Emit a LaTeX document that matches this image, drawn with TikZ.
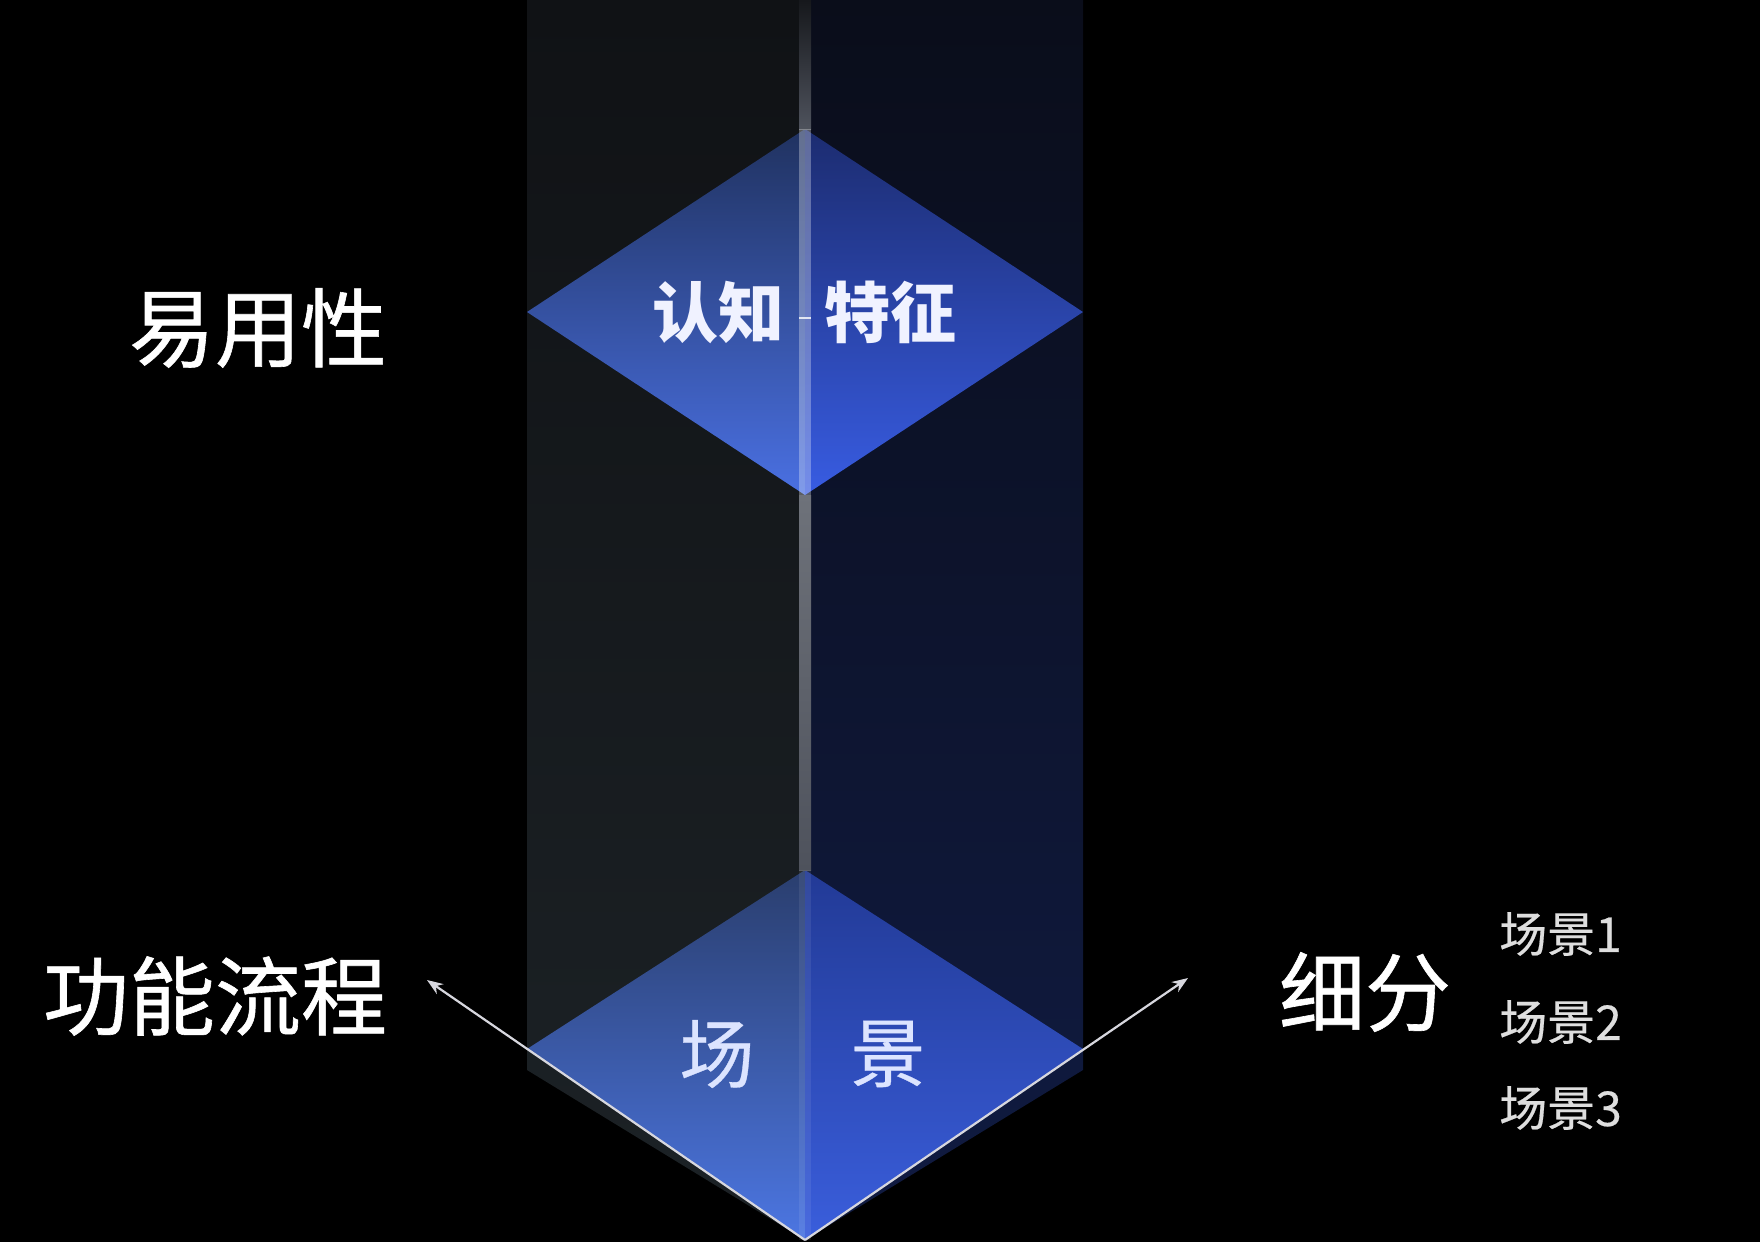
\documentclass[tikz,border=0pt]{standalone}
\usepackage{fontspec}
\newfontfamily\cjk{Noto Sans CJK SC}
\newfontfamily\cjkm[FakeBold=0.7]{Noto Sans CJK SC}
\newfontfamily\cjks[FakeBold=0.4]{Noto Sans CJK SC}
\usetikzlibrary{arrows.meta}
\definecolor{colLt}{RGB}{16,18,21}
\definecolor{colLb}{RGB}{28,34,38}
\definecolor{colRt}{RGB}{10,13,26}
\definecolor{colRb}{RGB}{16,27,66}
\definecolor{tdLt}{RGB}{32,50,96}
\definecolor{tdLb}{RGB}{74,112,226}
\definecolor{tdRt}{RGB}{28,44,112}
\definecolor{tdRb}{RGB}{56,92,226}
\definecolor{bdLt}{RGB}{42,62,110}
\definecolor{bdLb}{RGB}{76,118,226}
\definecolor{bdRt}{RGB}{34,58,150}
\definecolor{bdRb}{RGB}{58,94,220}
\definecolor{arrowcol}{RGB}{215,215,222}
\definecolor{lavender}{RGB}{220,228,255}
\definecolor{dtext}{RGB}{240,242,255}
\definecolor{subtext}{RGB}{222,222,222}
\definecolor{barA}{RGB}{22,24,28}
\definecolor{barB}{RGB}{78,82,92}
\definecolor{barC}{RGB}{110,114,122}
\begin{document}
\begin{tikzpicture}[x=1pt,y=-1pt,
  biglabel/.style={font=\cjkm\fontsize{86}{90}\selectfont, text=white, inner sep=0pt},
  dlabel/.style={font=\cjk\bfseries\fontsize{66}{70}\selectfont, text=dtext, inner sep=0pt},
  slabel/.style={font=\cjks\fontsize{75}{78}\selectfont, text=lavender, inner sep=0pt},
  sublabel/.style={font=\cjks\fontsize{48}{52}\selectfont, text=subtext, inner sep=0pt},
  flowarrow/.style={draw=arrowcol, line width=2.2pt, -{Stealth[length=16pt,width=12pt]}}]
\fill[black] (0,0) rectangle (1760,1242);
\useasboundingbox (0,0) rectangle (1760,1242);
% column halves
\shade[top color=colLt, bottom color=colLb] (527,0) -- (805,0) -- (805,1240) -- (527,1070) -- cycle;
\shade[top color=colRt, bottom color=colRb] (805,0) -- (1083,0) -- (1083,1070) -- (805,1240) -- cycle;
% top diamond
\coordinate (tT) at (805,129);
\coordinate (tL) at (527,312);
\coordinate (tR) at (1083,312);
\coordinate (tB) at (805,495);
\shade[top color=tdLt, bottom color=tdLb] (tT) -- (tL) -- (tB) -- cycle;
\shade[top color=tdRt, bottom color=tdRb] (tT) -- (tR) -- (tB) -- cycle;
% bottom diamond
\coordinate (bT) at (805,870);
\coordinate (bL) at (527,1049);
\coordinate (bR) at (1083,1049);
\coordinate (bB) at (805,1240);
\shade[top color=bdLt, bottom color=bdLb] (bT) -- (bL) -- (bB) -- cycle;
\shade[top color=bdRt, bottom color=bdRb] (bT) -- (bR) -- (bB) -- cycle;
% central bar
\shade[top color=barA, bottom color=barB] (799,0) rectangle (811,129);
\fill[white, opacity=0.3] (799,129) rectangle (811,495);
\shade[top color=barC, bottom color=barB] (799,495) rectangle (811,870);
\fill[white, opacity=0.08] (799,870) rectangle (811,1240);
\draw[white, opacity=0.8, line width=1.5pt] (799,318) -- (811,318);
% arrows
\coordinate (aL) at (427,980);
\coordinate (aR) at (1188,978);
\draw[flowarrow] (bB) -- (aL);
\draw[flowarrow] (bB) -- (aR);
% labels
\node[dlabel] (renzhi) at (718,312) {认知};
\node[dlabel] (tezheng) at (890,312) {特征};
\node[slabel] (chang) at (717,1054) {场};
\node[slabel] (jing) at (888,1054) {景};
\node[biglabel] (yiyong) at (258,328) {易用性};
\node[biglabel] (gongneng) at (215,996) {功能流程};
\node[biglabel] (xifen) at (1365,992) {细分};
\node[sublabel, anchor=west] (cj1) at (1499,934) {场景1};
\node[sublabel, anchor=west] (cj2) at (1499,1022) {场景2};
\node[sublabel, anchor=west] (cj3) at (1499,1108) {场景3};
\end{tikzpicture}
\end{document}
